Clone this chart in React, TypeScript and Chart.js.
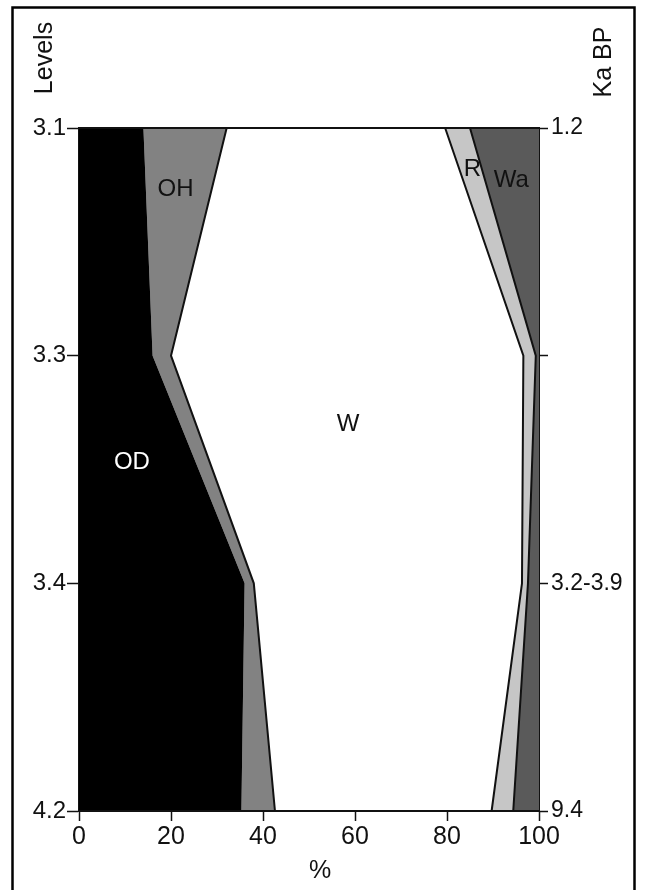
import { useEffect, useRef } from "react";
import { Chart, registerables } from "chart.js";

Chart.register(...registerables);

// Levels (top to bottom) and ages (Ka BP)
const levels = ["3.1", "3.3", "3.4", "4.2"];
const ages = ["1.2", "", "3.2-3.9", "9.4"];
const xTickValues = [0, 20, 40, 60, 80, 100];

// Percentages per level
const OD = [14, 16, 36, 35.3];
const OH = [18.1, 4, 2, 7.3];
const W = [47.5, 76.6, 58.3, 47.1];
const R = [5.4, 2.7, 1.3, 4.7];
const Wa = [15, 0.7, 2.4, 5.6];

const seriesNames = ["OD", "OH", "W", "R", "Wa"];
const seriesValues = [OD, OH, W, R, Wa];
const seriesColors = ["#000000", "#828282", "#ffffff", "#c6c6c6", "#5a5a5a"];
const seriesBorders = [0, 2, 2, 2, 0];

// In-plot label anchors (x in %, y in level index)
const areaLabels = [
  { text: "OD", x: 11.5, y: 1.47, color: "#ffffff" },
  { text: "OH", x: 21, y: 0.27, color: "#111111" },
  { text: "W", x: 58.5, y: 1.3, color: "#111111" },
  { text: "R", x: 85.5, y: 0.18, color: "#111111" },
  { text: "Wa", x: 94, y: 0.23, color: "#111111" },
];

const FONT = "'Liberation Sans', Arial, sans-serif";

export default function App() {
  const ref = useRef<HTMLCanvasElement | null>(null);

  useEffect(() => {
    document.body.style.margin = "0";
    const canvas = ref.current;
    if (!canvas) return;

    const decor = {
      id: "decor",
      afterDatasetsDraw(chart: any) {
        const ctx = chart.ctx;
        const { left, right, top, bottom } = chart.chartArea;
        ctx.save();
        ctx.strokeStyle = "#111";
        ctx.lineWidth = 2;
        ctx.beginPath();
        ctx.moveTo(left, top);
        ctx.lineTo(right, top);
        ctx.moveTo(left, bottom);
        ctx.lineTo(right, bottom);
        ctx.stroke();
        const xs = chart.scales.x;
        const ys = chart.scales.y;
        ctx.font = `24px ${FONT}`;
        ctx.textAlign = "center";
        ctx.textBaseline = "middle";
        for (const l of areaLabels) {
          ctx.fillStyle = l.color;
          ctx.fillText(l.text, xs.getPixelForValue(l.x), ys.getPixelForValue(l.y));
        }
        ctx.restore();
      },
      afterDraw(chart: any) {
        const ctx = chart.ctx;
        ctx.save();
        ctx.fillStyle = "#111";
        ctx.font = `25px ${FONT}`;
        ctx.textAlign = "center";
        ctx.textBaseline = "middle";
        ctx.save();
        ctx.translate(45, 58);
        ctx.rotate(-Math.PI / 2);
        ctx.fillText("Levels", 0, 0);
        ctx.restore();
        ctx.save();
        ctx.translate(604, 62);
        ctx.rotate(-Math.PI / 2);
        ctx.fillText("Ka BP", 0, 0);
        ctx.restore();
        ctx.fillText("%", 320, 871);
        ctx.strokeStyle = "#000";
        ctx.lineWidth = 2.5;
        ctx.strokeRect(12.5, 7.5, 622, 900);
        ctx.restore();
      },
    };

    const chart = new Chart(canvas, {
      type: "line",
      data: {
        labels: levels,
        datasets: seriesNames.map((name, i) => ({
          label: name,
          data: seriesValues[i],
          backgroundColor: seriesColors[i],
          borderColor: "#111111",
          borderWidth: seriesBorders[i],
          pointRadius: 0,
          tension: 0,
          fill: i === 0 ? "origin" : "-1",
        })),
      },
      options: {
        indexAxis: "y",
        responsive: false,
        animation: false,
        layout: { padding: { top: 128, left: 0, right: 0, bottom: 0 } },
        plugins: {
          legend: { display: false },
          tooltip: { enabled: false },
        },
        scales: {
          x: {
            type: "linear",
            stacked: true,
            min: 0,
            max: 100,
            afterFit: (s: any) => {
              s.height = 79;
            },
            afterBuildTicks: (s: any) => {
              s.ticks = xTickValues.map((v) => ({ value: v }));
            },
            border: { display: true, color: "#111", width: 2 },
            grid: {
              drawOnChartArea: false,
              drawTicks: true,
              tickLength: 10,
              tickColor: "#111",
              tickWidth: 1.5,
            },
            ticks: {
              color: "#111",
              padding: 1,
              font: { family: FONT, size: 25 },
              maxRotation: 0,
            },
          },
          y: {
            type: "category",
            position: "left",
            offset: false,
            afterFit: (s: any) => {
              s.width = 79;
            },
            border: { display: true, color: "#111", width: 2 },
            grid: {
              drawOnChartArea: false,
              drawTicks: true,
              tickLength: 12,
              tickColor: "#111",
              tickWidth: 1.5,
            },
            ticks: {
              color: "#111",
              padding: 1,
              autoSkip: false,
              font: { family: FONT, size: 24 },
            },
          },
          y2: {
            type: "category",
            position: "right",
            labels: ages,
            offset: false,
            afterFit: (s: any) => {
              s.width = 107;
            },
            border: { display: true, color: "#111", width: 2 },
            grid: {
              drawOnChartArea: false,
              drawTicks: true,
              tickLength: 9,
              tickColor: "#111",
              tickWidth: 1.5,
            },
            ticks: {
              color: "#111",
              padding: 3,
              autoSkip: false,
              font: { family: FONT, size: 23 },
            },
          },
        },
      } as any,
      plugins: [decor],
    });

    return () => chart.destroy();
  }, []);

  return (
    <div style={{ position: "absolute", left: 0, top: 0, width: 646, height: 890 }}>
      <canvas ref={ref} width={646} height={890} />
    </div>
  );
}
